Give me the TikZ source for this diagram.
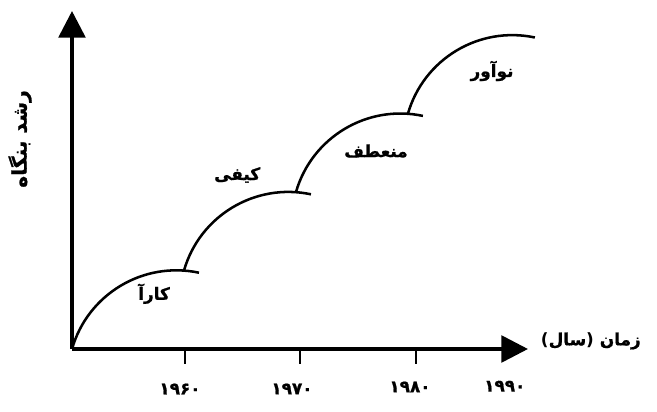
\documentclass[tikz,border=0pt]{standalone}
\usepackage{fontspec}
\usepackage{tikz}
\usetikzlibrary{arrows.meta, positioning, calc}
\newfontfamily\arabicfont[Script=Arabic, BoldFeatures={FakeBold=1}]{DejaVu Sans}
\newfontfamily\parenfont{DejaVu Sans}
\TeXXeTstate=1

\tikzset{
  axis/.style={line width=2.6pt, -{Triangle[width=19pt, length=19pt]}},
  growth/.style={line width=1.8pt},
  stage/.style={font=\arabicfont\bfseries\large},
  year/.style={font=\arabicfont\bfseries\large}
}

\begin{document}
\begin{tikzpicture}
        \useasboundingbox (0,0) rectangle (16.425,10.275);
        \def\R{2.715}

        % Axes
        \coordinate (O) at (1.8,1.55);
        \coordinate (ytip) at (1.8,10.0);
        \coordinate (xtip) at (13.2,1.55);
        \draw[axis] (O) -- (ytip);
        \draw[axis] (O) -- (xtip);
        \node[rotate=90, font=\arabicfont\bfseries\Large] (growthlabel) at (0.5,6.8) {\beginR رشد بنگاه\endR};
        \node[right, font=\arabicfont\bfseries\large] (timelabel) at (13.4,1.75)
            {{\parenfont\bfseries(}\beginR سال\endR{\parenfont\bfseries)}\ \beginR زمان\endR};

        % Ticks and years
        \foreach \tx in {4.625, 7.5, 10.4} {
            \draw[line width=1.2pt] (\tx,1.55) -- (\tx,1.18);
        }
        \node[year] (y1960) at (4.5,0.55) {۱۹۶۰};
        \node[year] (y1970) at (7.3,0.55) {۱۹۷۰};
        \node[year] (y1980) at (10.25,0.6) {۱۹۸۰};
        \node[year] (y1990) at (12.62,0.62) {۱۹۹۰};

        % Growth curves, each one starting near the top of the last
        \coordinate (s1) at (O);
        \foreach \i/\j in {1/2, 2/3, 3/4, 4/5} {
            \draw[growth] (s\i) arc[start angle=164, end angle=78, radius=\R];
            \path (s\i) ++(-16:\R) ++(86:\R) coordinate (s\j);
        }

        % Stage labels
        \node[stage] (kara) at (3.85,2.93) {\beginR کارآ\endR};
        \node[stage] (keyfi) at (5.93,5.9) {\beginR کیفی\endR};
        \node[stage] (monataf) at (9.4,6.5) {\beginR منعطف\endR};
        \node[stage] (noavar) at (12.3,8.5) {\beginR نوآور\endR};
    \end{tikzpicture}
\end{document}
